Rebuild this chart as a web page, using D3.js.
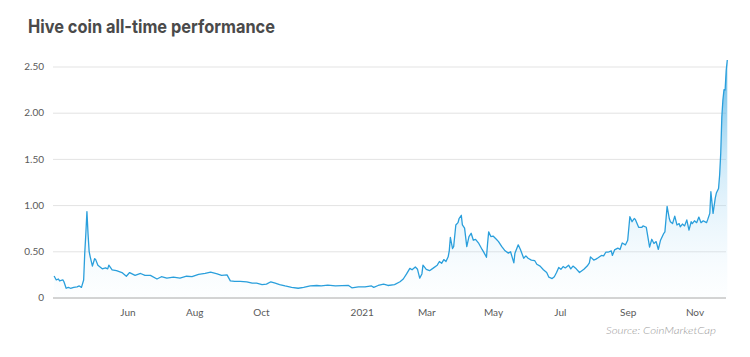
<!DOCTYPE html>
<html>
<head>
<meta charset="utf-8">
<script src="https://cdn.jsdelivr.net/npm/d3@7"></script>
<style>
  html, body { margin: 0; padding: 0; background: #ffffff; }
  svg { display: block; }
</style>
</head>
<body>
<svg id="chart" width="750" height="357"></svg>
<script>
// ---- Data (HIVE price in USD) ----
const dates = [
  "2020-03-26","2020-03-28","2020-03-30","2020-03-31","2020-04-03","2020-04-04","2020-04-06","2020-04-08","2020-04-10","2020-04-13",
  "2020-04-16","2020-04-18","2020-04-20","2020-04-22","2020-04-23","2020-04-24","2020-04-25","2020-04-26","2020-04-27","2020-04-28",
  "2020-04-30","2020-05-02","2020-05-03","2020-05-05","2020-05-09","2020-05-12","2020-05-14","2020-05-15","2020-05-18","2020-05-22",
  "2020-05-27","2020-05-31","2020-06-03","2020-06-08","2020-06-13","2020-06-17","2020-06-22","2020-06-28","2020-07-02","2020-07-07",
  "2020-07-13","2020-07-19","2020-07-25","2020-07-30","2020-08-05","2020-08-11","2020-08-16","2020-08-22","2020-08-26","2020-08-31",
  "2020-09-03","2020-09-07","2020-09-12","2020-09-18","2020-09-23","2020-09-27","2020-10-02","2020-10-06","2020-10-10","2020-10-14",
  "2020-10-18","2020-10-23","2020-10-29","2020-11-04","2020-11-09","2020-11-15","2020-11-21","2020-11-25","2020-12-01","2020-12-08",
  "2020-12-14","2020-12-20","2020-12-23","2020-12-29","2021-01-04","2021-01-10","2021-01-12","2021-01-16","2021-01-21","2021-01-25",
  "2021-01-31","2021-02-05","2021-02-08","2021-02-11","2021-02-14","2021-02-16","2021-02-19","2021-02-21","2021-02-23","2021-02-25",
  "2021-02-26","2021-03-01","2021-03-04","2021-03-07","2021-03-11","2021-03-13","2021-03-15","2021-03-17","2021-03-19","2021-03-21",
  "2021-03-22","2021-03-23","2021-03-25","2021-03-26","2021-03-28","2021-03-30","2021-03-31","2021-04-02","2021-04-03","2021-04-05",
  "2021-04-07","2021-04-09","2021-04-11","2021-04-13","2021-04-15","2021-04-18","2021-04-21","2021-04-23","2021-04-25","2021-04-26",
  "2021-04-27","2021-04-29","2021-05-01","2021-05-04","2021-05-06","2021-05-09","2021-05-12","2021-05-15","2021-05-17","2021-05-20",
  "2021-05-21","2021-05-24","2021-05-26","2021-05-29","2021-05-31","2021-06-02","2021-06-05","2021-06-08","2021-06-10","2021-06-13",
  "2021-06-16","2021-06-19","2021-06-21","2021-06-24","2021-06-26","2021-06-28","2021-06-30","2021-07-02","2021-07-04","2021-07-06",
  "2021-07-09","2021-07-11","2021-07-13","2021-07-16","2021-07-19","2021-07-23","2021-07-26","2021-07-28","2021-07-29","2021-08-01",
  "2021-08-03","2021-08-05","2021-08-08","2021-08-10","2021-08-12","2021-08-14","2021-08-17","2021-08-18","2021-08-20","2021-08-23",
  "2021-08-25","2021-08-27","2021-08-30","2021-09-01","2021-09-03","2021-09-05","2021-09-07","2021-09-08","2021-09-11","2021-09-14",
  "2021-09-15","2021-09-18","2021-09-21","2021-09-23","2021-09-25","2021-09-27","2021-09-29","2021-10-01","2021-10-04","2021-10-05",
  "2021-10-07","2021-10-09","2021-10-10","2021-10-12","2021-10-14","2021-10-16","2021-10-18","2021-10-19","2021-10-21","2021-10-23",
  "2021-10-25","2021-10-27","2021-10-29","2021-10-30","2021-11-01","2021-11-03","2021-11-05","2021-11-07","2021-11-09","2021-11-12",
  "2021-11-13","2021-11-15","2021-11-16","2021-11-18","2021-11-20","2021-11-21","2021-11-23","2021-11-24","2021-11-25","2021-11-26",
  "2021-11-27","2021-11-28","2021-11-29","2021-11-30","2021-12-01"
];
const prices = [
  0.233,0.19,0.20,0.18,0.19,0.17,0.10,0.11,0.10,0.11,
  0.115,0.125,0.11,0.19,0.48,0.69,0.93,0.69,0.50,0.44,
  0.34,0.42,0.41,0.35,0.31,0.32,0.31,0.35,0.30,0.29,
  0.27,0.23,0.27,0.24,0.26,0.24,0.24,0.20,0.225,0.21,
  0.22,0.21,0.23,0.225,0.25,0.26,0.275,0.255,0.24,0.245,
  0.18,0.175,0.175,0.17,0.155,0.155,0.14,0.145,0.17,0.155,
  0.14,0.125,0.11,0.10,0.11,0.125,0.13,0.125,0.135,0.125,
  0.128,0.13,0.105,0.115,0.115,0.125,0.11,0.13,0.145,0.13,
  0.14,0.17,0.20,0.255,0.315,0.30,0.33,0.305,0.21,0.255,
  0.35,0.305,0.29,0.315,0.35,0.39,0.37,0.41,0.39,0.44,
  0.505,0.65,0.53,0.55,0.785,0.81,0.855,0.89,0.785,0.75,
  0.55,0.66,0.695,0.62,0.63,0.585,0.52,0.48,0.435,0.585,
  0.71,0.66,0.665,0.63,0.605,0.55,0.505,0.48,0.495,0.375,
  0.48,0.57,0.52,0.425,0.45,0.425,0.405,0.40,0.36,0.34,
  0.30,0.27,0.22,0.205,0.225,0.27,0.325,0.305,0.335,0.32,
  0.35,0.31,0.34,0.31,0.27,0.305,0.34,0.375,0.44,0.405,
  0.415,0.43,0.455,0.45,0.49,0.49,0.505,0.455,0.515,0.535,
  0.52,0.59,0.57,0.62,0.875,0.82,0.855,0.845,0.76,0.76,
  0.775,0.76,0.545,0.63,0.585,0.605,0.52,0.62,0.695,0.71,
  0.985,0.855,0.82,0.80,0.88,0.785,0.80,0.765,0.795,0.775,
  0.84,0.73,0.82,0.80,0.83,0.81,0.87,0.81,0.83,0.81,
  0.84,0.91,1.145,0.91,1.075,1.13,1.18,1.325,1.56,1.955,
  2.14,2.25,2.245,2.46,2.57
];
const yTicks = [0, 0.5, 1.0, 1.5, 2.0, 2.5];
const yTickLabels = ["0", "0.50", "1.00", "1.50", "2.00", "2.50"];
const xTickDates = ["2020-06-01","2020-08-01","2020-10-01","2021-01-01","2021-03-01","2021-05-01","2021-07-01","2021-09-01","2021-11-01"];
const xTickLabels = ["Jun","Aug","Oct","2021","Mar","May","Jul","Sep","Nov"];
const titleText = "Hive coin all-time performance";
const sourceText = "Source: CoinMarketCap";

// ---- Build ----
const parse = d3.utcParse("%Y-%m-%d");
const data = dates.map((d, i) => ({ date: parse(d), value: prices[i] }));

const svg = d3.select("#chart");
const plotLeft = 53, plotRight = 726, plotTop = 66.5, plotBottom = 297.5;

const x = d3.scaleUtc()
  .domain([parse("2020-03-25"), parse("2021-12-01")])
  .range([plotLeft, 727.3]);
const y = d3.scaleLinear().domain([0, 2.5]).range([plotBottom, plotTop]);

svg.append("rect").attr("width", 750).attr("height", 357).attr("fill", "#ffffff");

// Title
svg.append("text")
  .attr("x", 28).attr("y", 33)
  .attr("font-family", "Inter, 'Open Sans', sans-serif")
  .attr("font-weight", 700)
  .attr("font-size", 18.5)
  .attr("textLength", 247)
  .attr("lengthAdjust", "spacingAndGlyphs")
  .attr("fill", "#4a4a4a")
  .text(titleText);

// Gridlines + y labels
const yAxis = d3.axisLeft(y)
  .tickValues(yTicks)
  .tickSize(-(plotRight - plotLeft))
  .tickPadding(9)
  .tickFormat((d, i) => yTickLabels[i]);
const gy = svg.append("g").attr("transform", `translate(${plotLeft},0)`).call(yAxis);
gy.select(".domain").remove();
gy.selectAll(".tick line").attr("stroke", "#e3e3e3").attr("stroke-width", 1);
gy.selectAll(".tick text")
  .attr("font-family", "Lato, 'Open Sans', sans-serif")
  .attr("font-size", 10)
  .attr("fill", "#5a5a5a");
gy.selectAll(".tick").filter(d => d === 0).select("line").attr("stroke", "#c4c4c4").attr("stroke-width", 1.3);

// Area gradient
const defs = svg.append("defs");
const grad = defs.append("linearGradient")
  .attr("id", "areaGrad")
  .attr("gradientUnits", "userSpaceOnUse")
  .attr("x1", 0).attr("x2", 0)
  .attr("y1", y(2.6)).attr("y2", y(0));
grad.append("stop").attr("offset", "0%").attr("stop-color", "#3aa8e0").attr("stop-opacity", 0.85);
grad.append("stop").attr("offset", "45%").attr("stop-color", "#7cc6ee").attr("stop-opacity", 0.35);
grad.append("stop").attr("offset", "100%").attr("stop-color", "#d6eefb").attr("stop-opacity", 0.05);

const area = d3.area()
  .x(d => x(d.date))
  .y0(y(0))
  .y1(d => y(d.value));
svg.append("path")
  .datum(data)
  .attr("d", area)
  .attr("fill", "url(#areaGrad)");

const line = d3.line()
  .x(d => x(d.date))
  .y(d => y(d.value));
svg.append("path")
  .datum(data)
  .attr("d", line)
  .attr("fill", "none")
  .attr("stroke", "#2a9fdc")
  .attr("stroke-width", 1.3)
  .attr("stroke-linejoin", "round");

// X axis labels
const xAxis = d3.axisBottom(x)
  .tickValues(xTickDates.map(parse))
  .tickSize(0)
  .tickPadding(11)
  .tickFormat((d, i) => xTickLabels[i]);
const gx = svg.append("g").attr("transform", `translate(0,${plotBottom})`).call(xAxis);
gx.select(".domain").remove();
gx.selectAll(".tick text")
  .attr("font-family", "Lato, 'Open Sans', sans-serif")
  .attr("font-size", 10)
  .attr("fill", "#5a5a5a");

// Source
svg.append("text")
  .attr("x", 606).attr("y", 334)
  .attr("font-family", "Lato, 'Open Sans', sans-serif")
  .attr("font-style", "italic")
  .attr("font-weight", 300)
  .attr("font-size", 10.5)
  .attr("textLength", 110)
  .attr("lengthAdjust", "spacingAndGlyphs")
  .attr("fill", "#9a9a9a")
  .text(sourceText);
</script>
</body>
</html>
